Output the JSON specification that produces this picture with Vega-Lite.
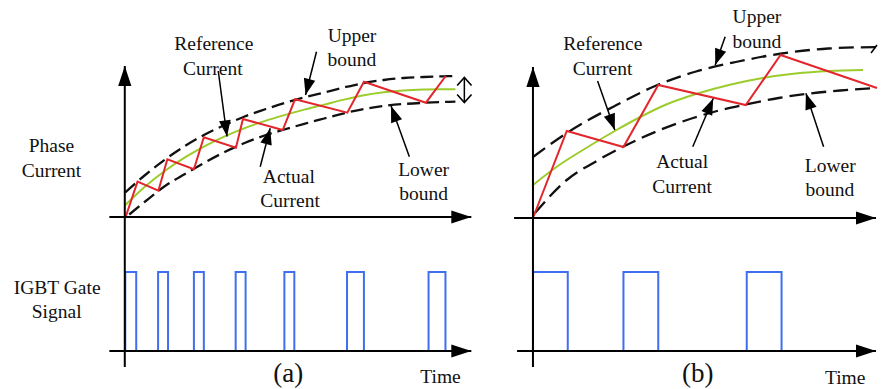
{
  "$schema": "https://vega.github.io/schema/vega-lite/v6.json",
  "width": 882,
  "height": 389,
  "padding": 0,
  "autosize": {"type": "fit", "contains": "padding"},
  "background": "white",
  "config": {"view": {"stroke": null}},
  "datasets": {
    "curves": [
      {"c":"upA","k":"boundA","i":0,"x":126,"y":192.3},{"c":"upA","k":"boundA","i":1,"x":146,"y":175},{"c":"upA","k":"boundA","i":2,"x":166,"y":159.5},{"c":"upA","k":"boundA","i":3,"x":186,"y":146},{"c":"upA","k":"boundA","i":4,"x":206,"y":134.5},{"c":"upA","k":"boundA","i":5,"x":226,"y":125},{"c":"upA","k":"boundA","i":6,"x":246,"y":116.5},{"c":"upA","k":"boundA","i":7,"x":266,"y":109.5},{"c":"upA","k":"boundA","i":8,"x":286,"y":103},{"c":"upA","k":"boundA","i":9,"x":306,"y":97.5},{"c":"upA","k":"boundA","i":10,"x":326,"y":92.5},{"c":"upA","k":"boundA","i":11,"x":346,"y":87.5},{"c":"upA","k":"boundA","i":12,"x":366,"y":83},{"c":"upA","k":"boundA","i":13,"x":386,"y":80},{"c":"upA","k":"boundA","i":14,"x":406,"y":78},{"c":"upA","k":"boundA","i":15,"x":426,"y":77},{"c":"upA","k":"boundA","i":16,"x":446,"y":76.3},{"c":"upA","k":"boundA","i":17,"x":458,"y":76},
      {"c":"loA","k":"boundA","i":0,"x":130,"y":214.5},{"c":"loA","k":"boundA","i":1,"x":146,"y":201.5},{"c":"loA","k":"boundA","i":2,"x":166,"y":186},{"c":"loA","k":"boundA","i":3,"x":186,"y":174},{"c":"loA","k":"boundA","i":4,"x":206,"y":162.5},{"c":"loA","k":"boundA","i":5,"x":226,"y":152},{"c":"loA","k":"boundA","i":6,"x":246,"y":143},{"c":"loA","k":"boundA","i":7,"x":266,"y":135.5},{"c":"loA","k":"boundA","i":8,"x":286,"y":129.5},{"c":"loA","k":"boundA","i":9,"x":306,"y":123.8},{"c":"loA","k":"boundA","i":10,"x":326,"y":118.5},{"c":"loA","k":"boundA","i":11,"x":346,"y":113.3},{"c":"loA","k":"boundA","i":12,"x":366,"y":109},{"c":"loA","k":"boundA","i":13,"x":386,"y":106},{"c":"loA","k":"boundA","i":14,"x":406,"y":104},{"c":"loA","k":"boundA","i":15,"x":426,"y":102.8},{"c":"loA","k":"boundA","i":16,"x":446,"y":102},{"c":"loA","k":"boundA","i":17,"x":458,"y":101.7},
      {"c":"refA","k":"ref","i":0,"x":126,"y":205},{"c":"refA","k":"ref","i":1,"x":146,"y":186.5},{"c":"refA","k":"ref","i":2,"x":166,"y":170.8},{"c":"refA","k":"ref","i":3,"x":186,"y":157.4},{"c":"refA","k":"ref","i":4,"x":206,"y":146.1},{"c":"refA","k":"ref","i":5,"x":226,"y":136.4},{"c":"refA","k":"ref","i":6,"x":246,"y":128.1},{"c":"refA","k":"ref","i":7,"x":266,"y":121.1},{"c":"refA","k":"ref","i":8,"x":286,"y":115.1},{"c":"refA","k":"ref","i":9,"x":306,"y":109.6},{"c":"refA","k":"ref","i":10,"x":326,"y":104.6},{"c":"refA","k":"ref","i":11,"x":346,"y":99.6},{"c":"refA","k":"ref","i":12,"x":366,"y":95.3},{"c":"refA","k":"ref","i":13,"x":386,"y":92.3},{"c":"refA","k":"ref","i":14,"x":406,"y":90.5},{"c":"refA","k":"ref","i":15,"x":426,"y":89.6},{"c":"refA","k":"ref","i":16,"x":446,"y":89.3},{"c":"refA","k":"ref","i":17,"x":458,"y":89.2},
      {"c":"actA","k":"act","i":0,"x":126,"y":218},{"c":"actA","k":"act","i":1,"x":138.3,"y":181.7},{"c":"actA","k":"act","i":2,"x":159.3,"y":190.7},{"c":"actA","k":"act","i":3,"x":168.3,"y":159.3},{"c":"actA","k":"act","i":4,"x":195,"y":169.3},{"c":"actA","k":"act","i":5,"x":205,"y":137.3},{"c":"actA","k":"act","i":6,"x":237.3,"y":147.7},{"c":"actA","k":"act","i":7,"x":244.3,"y":119},{"c":"actA","k":"act","i":8,"x":284.3,"y":130},{"c":"actA","k":"act","i":9,"x":296.7,"y":99.3},{"c":"actA","k":"act","i":10,"x":349.3,"y":112.7},{"c":"actA","k":"act","i":11,"x":366,"y":81.7},{"c":"actA","k":"act","i":12,"x":428.3,"y":102.7},{"c":"actA","k":"act","i":13,"x":448.3,"y":76},
      {"c":"upB","k":"boundB","i":0,"x":536,"y":157},{"c":"upB","k":"boundB","i":1,"x":570,"y":133},{"c":"upB","k":"boundB","i":2,"x":620,"y":105},{"c":"upB","k":"boundB","i":3,"x":660,"y":85.5},{"c":"upB","k":"boundB","i":4,"x":700,"y":71.5},{"c":"upB","k":"boundB","i":5,"x":740,"y":62},{"c":"upB","k":"boundB","i":6,"x":783,"y":54},{"c":"upB","k":"boundB","i":7,"x":833,"y":48.5},{"c":"upB","k":"boundB","i":8,"x":882,"y":47},
      {"c":"loB","k":"boundB","i":0,"x":538,"y":213},{"c":"loB","k":"boundB","i":1,"x":570,"y":180},{"c":"loB","k":"boundB","i":2,"x":600,"y":161},{"c":"loB","k":"boundB","i":3,"x":627,"y":146.5},{"c":"loB","k":"boundB","i":4,"x":660,"y":131.5},{"c":"loB","k":"boundB","i":5,"x":697,"y":118},{"c":"loB","k":"boundB","i":6,"x":723,"y":110.5},{"c":"loB","k":"boundB","i":7,"x":750,"y":104.5},{"c":"loB","k":"boundB","i":8,"x":783,"y":98},{"c":"loB","k":"boundB","i":9,"x":810,"y":94},{"c":"loB","k":"boundB","i":10,"x":845,"y":90.5},{"c":"loB","k":"boundB","i":11,"x":882,"y":88},
      {"c":"refB","k":"ref","i":0,"x":536,"y":185},{"c":"refB","k":"ref","i":1,"x":561,"y":166},{"c":"refB","k":"ref","i":2,"x":587,"y":149.5},{"c":"refB","k":"ref","i":3,"x":620,"y":130},{"c":"refB","k":"ref","i":4,"x":643,"y":117.5},{"c":"refB","k":"ref","i":5,"x":670,"y":104.5},{"c":"refB","k":"ref","i":6,"x":700,"y":94},{"c":"refB","k":"ref","i":7,"x":733,"y":85},{"c":"refB","k":"ref","i":8,"x":767,"y":78},{"c":"refB","k":"ref","i":9,"x":800,"y":73.5},{"c":"refB","k":"ref","i":10,"x":834,"y":71},{"c":"refB","k":"ref","i":11,"x":868,"y":70},
      {"c":"actB","k":"act","i":0,"x":536,"y":218},{"c":"actB","k":"act","i":1,"x":570,"y":131},{"c":"actB","k":"act","i":2,"x":627,"y":147},{"c":"actB","k":"act","i":3,"x":662,"y":85},{"c":"actB","k":"act","i":4,"x":750,"y":105},{"c":"actB","k":"act","i":5,"x":785,"y":55},{"c":"actB","k":"act","i":6,"x":882,"y":88},
      {"c":"gateA","k":"gate","i":0,"x":126,"y":351},{"c":"gateA","k":"gate","i":1,"x":126,"y":272},{"c":"gateA","k":"gate","i":2,"x":137,"y":272},{"c":"gateA","k":"gate","i":3,"x":137,"y":351},{"c":"gateA","k":"gate","i":4,"x":159,"y":351},{"c":"gateA","k":"gate","i":5,"x":159,"y":272},{"c":"gateA","k":"gate","i":6,"x":169,"y":272},{"c":"gateA","k":"gate","i":7,"x":169,"y":351},{"c":"gateA","k":"gate","i":8,"x":195,"y":351},{"c":"gateA","k":"gate","i":9,"x":195,"y":272},{"c":"gateA","k":"gate","i":10,"x":205,"y":272},{"c":"gateA","k":"gate","i":11,"x":205,"y":351},{"c":"gateA","k":"gate","i":12,"x":237,"y":351},{"c":"gateA","k":"gate","i":13,"x":237,"y":272},{"c":"gateA","k":"gate","i":14,"x":247,"y":272},{"c":"gateA","k":"gate","i":15,"x":247,"y":351},{"c":"gateA","k":"gate","i":16,"x":286,"y":351},{"c":"gateA","k":"gate","i":17,"x":286,"y":272},{"c":"gateA","k":"gate","i":18,"x":296,"y":272},{"c":"gateA","k":"gate","i":19,"x":296,"y":351},{"c":"gateA","k":"gate","i":20,"x":349,"y":351},{"c":"gateA","k":"gate","i":21,"x":349,"y":272},{"c":"gateA","k":"gate","i":22,"x":366,"y":272},{"c":"gateA","k":"gate","i":23,"x":366,"y":351},{"c":"gateA","k":"gate","i":24,"x":431,"y":351},{"c":"gateA","k":"gate","i":25,"x":431,"y":272},{"c":"gateA","k":"gate","i":26,"x":448,"y":272},{"c":"gateA","k":"gate","i":27,"x":448,"y":351},
      {"c":"gateB","k":"gate","i":0,"x":536,"y":351},{"c":"gateB","k":"gate","i":1,"x":536,"y":272},{"c":"gateB","k":"gate","i":2,"x":571,"y":272},{"c":"gateB","k":"gate","i":3,"x":571,"y":351},{"c":"gateB","k":"gate","i":4,"x":627,"y":351},{"c":"gateB","k":"gate","i":5,"x":627,"y":272},{"c":"gateB","k":"gate","i":6,"x":662,"y":272},{"c":"gateB","k":"gate","i":7,"x":662,"y":351},{"c":"gateB","k":"gate","i":8,"x":751,"y":351},{"c":"gateB","k":"gate","i":9,"x":751,"y":272},{"c":"gateB","k":"gate","i":10,"x":786,"y":272},{"c":"gateB","k":"gate","i":11,"x":786,"y":351}
    ],
    "arrows": [
      {"k":"axis","x1":125.5,"y1":367,"x2":125.5,"y2":66},
      {"k":"axis","x1":110,"y1":217,"x2":474,"y2":217},
      {"k":"axis","x1":110,"y1":351,"x2":474,"y2":351},
      {"k":"axis","x1":536,"y1":367,"x2":536,"y2":67},
      {"k":"axis","x1":517,"y1":218,"x2":881,"y2":218},
      {"k":"axis","x1":520,"y1":351,"x2":881,"y2":351},
      {"k":"note","x1":219.5,"y1":71,"x2":228.3,"y2":136.5},
      {"k":"note","x1":318.3,"y1":51.7,"x2":307.3,"y2":95},
      {"k":"note","x1":261.7,"y1":166.7,"x2":271.7,"y2":128.3},
      {"k":"note","x1":411.7,"y1":156.7,"x2":393.3,"y2":106},
      {"k":"note","x1":601,"y1":81,"x2":618.3,"y2":130},
      {"k":"note","x1":729.3,"y1":36.7,"x2":719.3,"y2":65},
      {"k":"note","x1":696.7,"y1":146.7,"x2":717.3,"y2":98.5},
      {"k":"note","x1":828.3,"y1":146.7,"x2":810.5,"y2":93.3},
      {"k":"span","x1":467,"y1":90,"x2":467,"y2":77.5},
      {"k":"span","x1":467,"y1":90,"x2":467,"y2":102.5},
      {"k":"stub","x1":876,"y1":53,"x2":882,"y2":45}
    ],
    "labels": [
      {"k":"label","t":"Reference","x":215,"y":50},
      {"k":"label","t":"Current","x":214,"y":75},
      {"k":"label","t":"Upper","x":354,"y":41.7},
      {"k":"label","t":"bound","x":354,"y":66},
      {"k":"label","t":"Actual","x":290.5,"y":183.3},
      {"k":"label","t":"Current","x":291.7,"y":207.3},
      {"k":"label","t":"Lower","x":426,"y":176},
      {"k":"label","t":"bound","x":426,"y":200},
      {"k":"label","t":"Phase","x":51.7,"y":152.3},
      {"k":"label","t":"Current","x":51.7,"y":177.3},
      {"k":"label","t":"IGBT Gate","x":57.5,"y":294},
      {"k":"label","t":"Signal","x":57,"y":318.3},
      {"k":"label","t":"Time","x":443,"y":383.3},
      {"k":"label","t":"Reference","x":606.3,"y":50},
      {"k":"label","t":"Current","x":606,"y":75},
      {"k":"label","t":"Upper","x":761.3,"y":23.3},
      {"k":"label","t":"bound","x":761.3,"y":48.3},
      {"k":"label","t":"Actual","x":686,"y":168.3},
      {"k":"label","t":"Current","x":686,"y":192.7},
      {"k":"label","t":"Lower","x":835,"y":171.7},
      {"k":"label","t":"bound","x":834.7,"y":196},
      {"k":"label","t":"Time","x":850,"y":384},
      {"k":"panel","t":"(a)","x":290,"y":382},
      {"k":"panel","t":"(b)","x":701.7,"y":381.7}
    ]
  },
  "encoding": {
    "x": {"field": "x", "type": "quantitative", "scale": {"domain": [0, 882], "nice": false, "zero": false}, "axis": null},
    "y": {"field": "y", "type": "quantitative", "scale": {"domain": [0, 389], "nice": false, "zero": false, "reverse": true}, "axis": null}
  },
  "layer": [
    {
      "data": {"name": "curves"},
      "transform": [{"filter": "datum.k == 'boundA'"}],
      "mark": {"type": "line", "interpolate": "monotone", "color": "#111111", "strokeWidth": 2.3, "strokeDash": [13, 6]},
      "encoding": {"detail": {"field": "c"}, "order": {"field": "i", "type": "quantitative"}}
    },
    {
      "data": {"name": "curves"},
      "transform": [{"filter": "datum.k == 'boundB'"}],
      "mark": {"type": "line", "interpolate": "monotone", "color": "#111111", "strokeWidth": 2.3, "strokeDash": [15, 7]},
      "encoding": {"detail": {"field": "c"}, "order": {"field": "i", "type": "quantitative"}}
    },
    {
      "data": {"name": "curves"},
      "transform": [{"filter": "datum.k == 'ref'"}],
      "mark": {"type": "line", "interpolate": "monotone", "color": "#9ccc2c", "strokeWidth": 2},
      "encoding": {"detail": {"field": "c"}, "order": {"field": "i", "type": "quantitative"}}
    },
    {
      "data": {"name": "curves"},
      "transform": [{"filter": "datum.k == 'act'"}],
      "mark": {"type": "line", "color": "#e3262c", "strokeWidth": 2},
      "encoding": {"detail": {"field": "c"}, "order": {"field": "i", "type": "quantitative"}}
    },
    {
      "data": {"name": "curves"},
      "transform": [{"filter": "datum.k == 'gate'"}],
      "mark": {"type": "line", "color": "#3f6ff0", "strokeWidth": 2},
      "encoding": {"detail": {"field": "c"}, "order": {"field": "i", "type": "quantitative"}}
    },
    {
      "data": {"name": "arrows"},
      "transform": [{"filter": "datum.k == 'axis'"}],
      "mark": {"type": "rule", "color": "#000000", "strokeWidth": 2},
      "encoding": {
        "x": {"field": "x1", "type": "quantitative"},
        "y": {"field": "y1", "type": "quantitative"},
        "x2": {"field": "x2"},
        "y2": {"field": "y2"}
      }
    },
    {
      "data": {"name": "arrows"},
      "transform": [{"filter": "datum.k != 'axis'"}],
      "mark": {"type": "rule", "color": "#000000", "strokeWidth": 1.5},
      "encoding": {
        "x": {"field": "x1", "type": "quantitative"},
        "y": {"field": "y1", "type": "quantitative"},
        "x2": {"field": "x2"},
        "y2": {"field": "y2"}
      }
    },
    {
      "data": {"name": "arrows"},
      "transform": [
        {"filter": "datum.k == 'axis'"},
        {"calculate": "atan2(datum.x2 - datum.x1, datum.y1 - datum.y2) * 180 / PI", "as": "ang"}
      ],
      "mark": {"type": "point", "shape": "M0,0L-0.33,1L0.33,1Z", "filled": true, "opacity": 1, "size": 1600, "color": "#000000", "strokeWidth": 0},
      "encoding": {
        "x": {"field": "x2", "type": "quantitative"},
        "y": {"field": "y2", "type": "quantitative"},
        "angle": {"field": "ang", "type": "quantitative", "scale": null}
      }
    },
    {
      "data": {"name": "arrows"},
      "transform": [
        {"filter": "datum.k == 'note'"},
        {"calculate": "atan2(datum.x2 - datum.x1, datum.y1 - datum.y2) * 180 / PI", "as": "ang"}
      ],
      "mark": {"type": "point", "shape": "M0,0L-0.36,1L0.36,1Z", "filled": true, "opacity": 1, "size": 1050, "color": "#000000", "strokeWidth": 0},
      "encoding": {
        "x": {"field": "x2", "type": "quantitative"},
        "y": {"field": "y2", "type": "quantitative"},
        "angle": {"field": "ang", "type": "quantitative", "scale": null}
      }
    },
    {
      "data": {"name": "arrows"},
      "transform": [
        {"filter": "datum.k == 'span'"},
        {"calculate": "atan2(datum.x2 - datum.x1, datum.y1 - datum.y2) * 180 / PI", "as": "ang"}
      ],
      "mark": {"type": "point", "shape": "M-0.9,1L0,0L0.9,1", "filled": false, "opacity": 1, "size": 256, "color": "#000000", "strokeWidth": 1.6},
      "encoding": {
        "x": {"field": "x2", "type": "quantitative"},
        "y": {"field": "y2", "type": "quantitative"},
        "angle": {"field": "ang", "type": "quantitative", "scale": null}
      }
    },
    {
      "data": {"name": "labels"},
      "transform": [{"filter": "datum.k == 'label'"}],
      "mark": {"type": "text", "font": "Liberation Serif", "fontSize": 19.5, "baseline": "alphabetic", "align": "center", "color": "#111111"},
      "encoding": {"text": {"field": "t"}}
    },
    {
      "data": {"name": "labels"},
      "transform": [{"filter": "datum.k == 'panel'"}],
      "mark": {"type": "text", "font": "Liberation Serif", "fontSize": 27, "baseline": "alphabetic", "align": "center", "color": "#111111"},
      "encoding": {"text": {"field": "t"}}
    }
  ]
}
